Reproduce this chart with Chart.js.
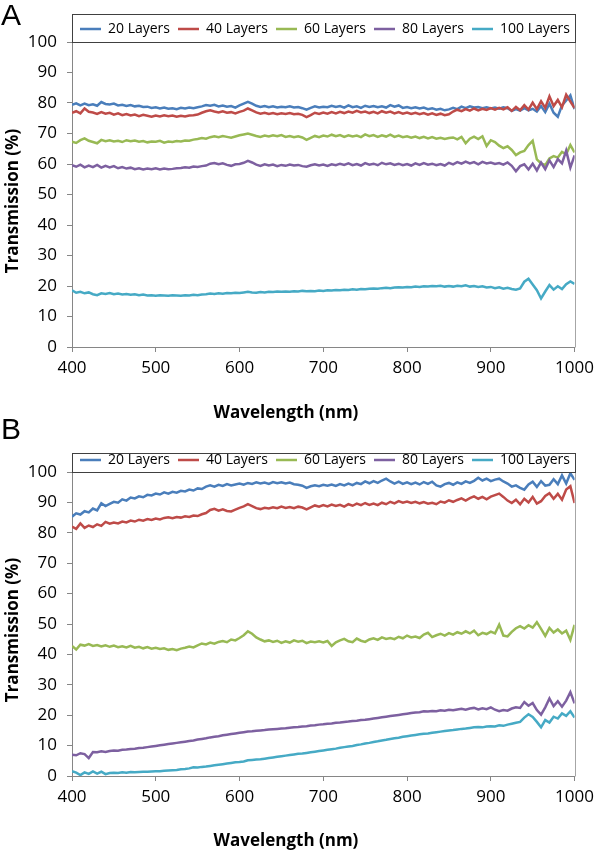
<!DOCTYPE html>
<html>
<head>
<meta charset="utf-8">
<script src="https://cdn.jsdelivr.net/npm/chart.js@4.4.1/dist/chart.umd.min.js"></script>
<style>
  html, body { margin: 0; padding: 0; background: #fff; }
  #page { position: relative; width: 600px; height: 852px; overflow: hidden; background: #fff; }
  canvas { position: absolute; left: 0; }
  .letter { position: absolute; font-family: "Liberation Sans", Arial, sans-serif; font-size: 30px; line-height: 1; color: #000; }
  .xtitle { position: absolute; font-family: "Open Sans", sans-serif; font-weight: bold; font-size: 17px; line-height: 1; color: #000; white-space: nowrap; transform: translate(-50%, -50%); }
  .ytitle { position: absolute; font-family: "Open Sans", sans-serif; font-weight: bold; font-size: 17px; line-height: 1; color: #000; white-space: nowrap; transform: translate(-50%, -50%) rotate(-90deg); }
</style>
</head>
<body>
<div id="page">
  <canvas id="chartA" width="600" height="422" style="top:0px"></canvas>
  <canvas id="chartB" width="600" height="422" style="top:430px"></canvas>
  <div class="letter" style="left:1px; top:0px;">A</div>
  <div class="letter" style="left:1px; top:414px;">B</div>
  <div class="ytitle" style="left:11px; top:201px;">Transmission (%)</div>
  <div class="ytitle" style="left:11px; top:630px;">Transmission (%)</div>
  <div class="xtitle" style="left:286px; top:411px;">Wavelength (nm)</div>
  <div class="xtitle" style="left:286px; top:839px;">Wavelength (nm)</div>
</div>
<script>
// ---------- data ----------
const wavelengths = [
  400,405,410,415,420,425,430,435,440,445,450,455,460,465,470,475,480,485,490,495,
  500,505,510,515,520,525,530,535,540,545,550,555,560,565,570,575,580,585,590,595,
  600,605,610,615,620,625,630,635,640,645,650,655,660,665,670,675,680,685,690,695,
  700,705,710,715,720,725,730,735,740,745,750,755,760,765,770,775,780,785,790,795,
  800,805,810,815,820,825,830,835,840,845,850,855,860,865,870,875,880,885,890,895,
  900,905,910,915,920,925,930,935,940,945,950,955,960,965,970,975,980,985,990,995,
  1000
];
const seriesNames = ['20 Layers', '40 Layers', '60 Layers', '80 Layers', '100 Layers'];
const xTickValues = [400, 500, 600, 700, 800, 900, 1000];
const yTickValues = [0, 10, 20, 30, 40, 50, 60, 70, 80, 90, 100];

// Panel A
const panelA_20 = [
  79.4,79.9,79.2,79.8,79.3,79.6,79.1,80.3,79.7,79.5,79.8,79.2,79.4,79.0,79.3,78.9,79.1,78.7,78.8,78.4,
  78.6,78.2,78.5,78.1,78.3,78.0,78.4,78.2,78.5,78.3,78.6,78.9,79.3,79.1,79.4,78.9,79.2,78.8,79.0,78.5,
  79.2,79.8,80.4,79.8,79.1,78.7,79.0,78.6,78.9,78.5,78.8,78.6,78.9,78.5,78.7,78.3,77.8,78.4,78.9,78.5,
  78.8,78.6,79.1,78.7,79.0,78.5,79.2,78.6,78.9,78.4,79.1,78.7,79.0,78.6,78.9,78.5,79.3,78.8,79.2,78.4,
  78.7,78.3,78.6,78.2,78.5,78.0,78.3,77.8,78.1,77.6,77.9,78.4,78.0,78.8,78.3,78.9,78.5,78.7,78.3,78.6,
  78.2,78.5,78.1,78.6,78.3,77.4,78.0,77.5,78.3,77.6,78.1,77.2,79.0,77.0,79.8,76.8,75.5,79.2,80.8,82.5,
  78.0
];
const panelA_40 = [
  76.8,77.3,76.6,78.2,77.1,76.9,76.4,77.0,76.5,76.8,76.2,76.6,76.0,76.4,75.9,76.2,75.7,76.1,75.8,75.5,
  75.9,75.6,76.0,75.7,75.9,75.5,75.8,75.6,75.9,76.0,76.2,76.8,77.3,77.6,77.2,76.9,77.3,76.8,77.0,76.6,
  77.1,77.5,78.2,77.6,76.9,76.5,76.8,76.4,76.7,76.3,76.6,76.4,76.7,76.3,76.5,76.1,75.4,76.0,76.8,76.4,
  76.9,76.5,77.0,76.6,77.1,76.7,77.2,76.8,77.4,76.9,77.2,76.7,77.1,76.6,77.3,76.8,77.2,76.6,77.0,76.5,
  76.9,76.4,76.8,76.3,76.7,76.2,76.6,76.1,76.5,76.0,76.3,77.2,77.8,77.3,78.0,77.5,78.2,77.6,78.1,77.7,
  78.3,77.8,78.4,77.9,78.6,77.4,78.7,77.6,79.3,77.8,80.1,78.0,80.6,78.4,82.2,79.0,81.0,78.6,82.7,80.5,
  78.3
];
const panelA_60 = [
  67.3,66.9,67.8,68.4,67.6,67.2,66.8,67.9,67.5,67.8,67.4,67.6,67.2,67.8,67.5,67.7,67.3,67.5,67.1,67.4,
  67.3,67.6,67.0,67.4,67.2,67.5,67.4,67.7,67.6,68.0,68.2,68.5,68.3,68.8,69.1,68.8,69.2,68.9,68.6,69.0,
  69.4,69.7,70.0,69.6,69.2,68.9,69.3,69.0,69.4,69.1,69.5,68.9,69.2,68.8,69.1,68.7,67.9,68.6,69.2,68.8,
  69.3,69.0,69.6,69.1,69.5,68.9,69.4,69.0,69.3,68.8,69.7,69.1,69.5,68.9,69.4,69.0,69.6,68.9,69.3,68.8,
  69.1,68.6,69.0,68.5,68.9,68.4,68.8,68.3,68.6,68.2,68.5,68.7,68.1,68.9,66.8,68.3,69.0,68.2,69.1,65.9,
  67.8,67.2,66.0,65.2,65.8,64.6,62.9,63.8,64.3,66.2,67.6,61.5,60.2,59.6,61.8,62.6,62.1,64.0,63.2,66.2,
  63.8
];
const panelA_80 = [
  59.6,59.1,59.8,58.9,59.5,59.0,59.7,58.8,59.4,58.9,59.3,58.6,59.0,58.5,58.8,58.3,58.6,58.2,58.5,58.3,
  58.6,58.2,58.5,58.3,58.4,58.6,58.7,58.9,58.8,59.2,59.0,59.3,59.5,60.1,60.3,59.9,60.2,59.7,59.4,59.9,
  60.0,60.4,61.0,60.5,59.8,59.4,59.9,59.5,59.8,59.3,59.7,59.4,59.8,59.5,59.7,59.3,59.1,59.6,59.9,59.5,
  59.8,59.4,59.9,59.6,60.1,59.7,60.2,59.6,60.0,59.5,60.3,59.8,60.1,59.6,60.4,59.9,60.2,59.7,60.1,59.6,
  60.0,59.5,60.2,59.7,60.3,59.8,60.1,59.6,60.0,59.5,60.4,59.9,60.6,60.1,60.8,60.2,60.6,59.9,60.7,60.2,
  60.5,60.0,60.3,59.8,60.5,59.4,57.6,59.3,59.9,58.2,60.1,57.9,60.5,58.3,61.2,59.0,61.6,60.2,64.4,58.8,
  62.8
];
const panelA_100 = [
  18.6,17.8,18.1,17.6,17.9,17.3,17.0,17.6,17.4,17.7,17.3,17.5,17.2,17.4,17.1,17.3,17.0,17.2,16.9,17.0,
  16.8,17.0,16.9,16.8,17.0,16.9,16.8,17.0,16.9,17.1,17.0,17.2,17.3,17.5,17.4,17.6,17.5,17.7,17.6,17.8,
  17.7,17.9,18.1,17.9,17.8,18.0,17.9,18.1,18.0,18.2,18.1,18.2,18.1,18.3,18.2,18.4,18.3,18.4,18.3,18.5,
  18.4,18.6,18.5,18.7,18.6,18.8,18.7,18.9,18.8,19.0,18.9,19.1,19.2,19.1,19.3,19.4,19.3,19.5,19.6,19.5,
  19.7,19.6,19.8,19.7,19.9,19.8,20.0,19.9,20.1,19.8,20.0,19.8,20.1,19.9,20.2,19.8,20.0,19.7,19.9,19.5,
  19.7,19.3,19.6,19.1,19.4,19.0,18.8,19.2,21.4,22.4,20.5,18.6,15.9,18.2,20.3,18.8,19.9,19.0,20.6,21.5,
  20.7
];

// Panel B
const panelB_20 = [
  85.3,86.4,86.0,87.1,86.7,88.0,87.4,89.7,88.8,89.5,90.2,89.9,91.0,90.6,91.6,91.3,92.0,91.7,92.5,92.3,
  92.9,92.6,93.3,92.9,93.5,93.2,93.8,93.6,94.2,93.9,94.6,94.4,95.2,95.6,95.2,95.8,95.4,96.0,95.6,95.9,
  96.2,95.8,96.4,96.1,96.6,96.2,96.5,96.1,96.7,96.3,96.6,96.2,96.5,96.0,95.8,95.5,94.8,95.3,95.6,95.3,
  95.8,95.5,95.9,95.4,96.0,95.6,96.2,95.7,96.4,96.0,96.9,96.3,97.0,96.4,97.2,97.8,96.9,96.2,96.8,96.1,
  96.6,96.0,96.5,95.9,96.7,96.1,96.8,95.6,95.2,96.0,96.4,95.8,96.6,96.1,96.9,96.4,97.1,98.1,97.2,97.8,
  97.0,97.5,97.8,96.9,96.2,95.2,95.6,94.8,94.2,95.9,96.8,95.1,97.0,95.5,95.8,97.6,96.0,98.9,96.2,99.6,
  97.4
];
const panelB_40 = [
  82.0,81.3,83.1,81.6,82.4,81.9,82.8,82.3,83.6,83.0,83.4,83.1,83.7,83.4,84.0,83.7,84.3,84.0,84.5,84.2,
  84.7,84.4,84.9,85.1,84.8,85.2,85.0,85.4,85.2,85.7,85.5,86.1,86.5,87.5,87.9,87.3,87.7,87.2,87.0,87.6,
  88.2,88.7,89.4,88.8,88.1,87.8,88.2,88.0,88.4,88.1,88.6,88.2,88.5,88.1,88.6,88.3,87.7,88.4,89.0,88.6,
  89.1,88.7,89.3,88.8,89.2,88.6,89.4,88.9,89.6,89.1,89.8,89.2,89.6,89.1,89.9,89.4,90.2,89.7,90.4,89.9,
  90.3,89.8,90.2,89.7,90.1,89.6,89.9,89.4,90.3,89.9,90.7,90.2,90.8,91.3,90.6,91.4,92.0,91.2,91.8,91.0,
  91.9,92.4,92.9,91.8,90.6,89.8,90.9,89.4,91.2,90.0,91.8,89.6,90.4,92.1,93.0,91.2,92.8,90.9,94.2,95.3,
  89.8
];
const panelB_60 = [
  42.8,41.6,43.2,42.9,43.4,42.8,43.1,42.6,43.0,42.5,42.9,42.4,42.7,42.3,42.8,42.2,42.5,42.0,42.4,41.9,
  42.2,41.8,42.0,41.5,41.8,41.4,41.9,42.2,42.6,42.3,43.0,43.6,43.3,43.9,43.5,44.1,44.4,44.0,44.9,44.6,
  45.4,46.3,47.6,46.8,45.6,44.9,44.3,44.6,44.1,44.5,43.8,44.3,43.9,44.6,44.2,44.5,43.7,44.2,44.0,44.3,
  43.9,44.4,42.8,44.0,44.6,45.1,44.3,44.0,45.2,44.5,44.1,44.9,45.3,44.8,45.6,45.1,45.4,45.0,45.8,45.3,
  46.2,45.6,45.9,45.4,46.5,47.1,45.7,46.3,46.8,46.2,47.0,46.5,47.3,46.8,47.6,46.9,47.8,46.3,47.1,46.7,
  47.5,46.9,49.8,46.2,45.9,47.4,48.6,49.3,48.5,49.6,48.8,50.6,48.4,46.1,48.7,47.2,48.2,46.9,47.8,44.8,
  49.7
];
const panelB_80 = [
  7.0,6.8,7.5,7.2,5.9,7.9,7.8,8.1,7.9,8.2,8.4,8.3,8.6,8.7,8.9,9.0,9.2,9.3,9.5,9.7,
  9.9,10.1,10.3,10.5,10.7,10.9,11.1,11.3,11.5,11.7,12.0,12.2,12.4,12.7,12.9,13.1,13.4,13.6,13.8,14.0,
  14.2,14.4,14.6,14.7,14.9,15.0,15.1,15.3,15.4,15.5,15.6,15.7,15.9,16.0,16.1,16.3,16.4,16.6,16.7,16.9,
  17.0,17.2,17.3,17.5,17.6,17.8,17.9,18.1,18.2,18.4,18.5,18.7,18.9,19.1,19.3,19.5,19.7,19.9,20.1,20.3,
  20.5,20.7,20.9,21.0,21.3,21.2,21.4,21.3,21.6,21.5,21.8,21.6,21.9,22.1,21.8,22.2,22.4,21.9,22.3,22.0,
  22.6,21.8,21.3,21.7,21.5,22.2,22.6,22.4,24.3,23.1,24.0,21.7,20.2,22.6,25.5,23.0,24.6,22.8,24.8,27.6,
  23.9
];
const panelB_100 = [
  1.6,1.1,0.3,1.2,0.7,1.5,0.8,1.4,0.6,1.0,1.1,1.0,1.2,1.1,1.3,1.2,1.3,1.4,1.4,1.5,
  1.6,1.6,1.7,1.8,1.9,2.0,2.2,2.3,2.5,2.9,2.8,3.0,3.1,3.3,3.5,3.7,3.9,4.1,4.3,4.5,
  4.6,4.8,5.2,5.3,5.4,5.5,5.7,5.9,6.1,6.3,6.5,6.7,6.9,7.1,7.3,7.4,7.6,7.8,8.0,8.2,
  8.4,8.6,8.8,9.0,9.3,9.5,9.7,9.9,10.2,10.4,10.7,10.9,11.2,11.4,11.7,11.9,12.2,12.4,12.6,12.9,
  13.1,13.3,13.5,13.7,13.9,14.0,14.2,14.4,14.6,14.8,15.0,15.1,15.3,15.5,15.6,15.8,16.0,16.1,16.0,16.3,
  16.4,16.3,16.7,16.5,16.9,17.2,17.5,17.8,19.2,20.3,19.4,17.8,16.0,18.4,17.6,19.5,18.9,20.6,19.8,21.3,
  19.2
];

// ---------- styling ----------
const seriesColors = ['#4A7EBB', '#BE4B48', '#98B954', '#7D60A0', '#46AAC5'];
const axisColor = '#868686';

const framePlugin = {
  id: 'frame',
  afterDraw(chart, args, opts) {
    const a = chart.chartArea;
    const ctx = chart.ctx;
    const L = Math.round(a.left) + 0.5, R = Math.round(a.right) + 0.5;
    const T = Math.round(a.top) + 0.5, B = Math.round(a.bottom) + 0.5;
    ctx.save();
    ctx.lineWidth = 1;
    ctx.strokeStyle = '#a6a6a6';
    ctx.beginPath();
    ctx.moveTo(R, T); ctx.lineTo(R, B);
    ctx.stroke();
    ctx.strokeStyle = '#404040';
    ctx.strokeRect(L, T - opts.boxHeight, R - L, opts.boxHeight);
    ctx.restore();
  }
};

function makeChart(canvasId, seriesValues, cfg) {
  const datasets = seriesNames.map((name, i) => ({
    label: name,
    data: wavelengths.map((w, j) => ({ x: w, y: seriesValues[i][j] })),
    borderColor: seriesColors[i],
    backgroundColor: seriesColors[i],
    borderWidth: 2.5,
    pointRadius: 0,
    pointHoverRadius: 0,
    tension: 0,
    fill: false,
    order: seriesNames.length - i
  }));
  const tickFont = { family: "'Open Sans', sans-serif", size: 17 };
  return new Chart(document.getElementById(canvasId), {
    type: 'line',
    data: { datasets },
    options: {
      responsive: false,
      animation: false,
      events: [],
      layout: { padding: { top: cfg.padTop, right: 22, bottom: 0, left: 0 } },
      plugins: {
        legend: {
          position: 'top',
          align: 'end',
          maxHeight: cfg.legendHeight,
          labels: {
            usePointStyle: true,
            pointStyle: 'line',
            pointStyleWidth: 21,
            padding: 8,
            color: '#000',
            font: { family: "'Open Sans', sans-serif", size: 14 },
            sort: (a, b) => a.datasetIndex - b.datasetIndex
          }
        },
        tooltip: { enabled: false },
        frame: { boxHeight: cfg.boxHeight }
      },
      scales: {
        x: {
          type: 'linear',
          min: xTickValues[0],
          max: xTickValues[xTickValues.length - 1],
          afterBuildTicks: s => { s.ticks = xTickValues.map(v => ({ value: v })); },
          afterFit: s => { s.height = cfg.xAxisHeight; },
          grid: { drawOnChartArea: false, drawTicks: true, tickLength: 5, color: axisColor },
          border: { display: true, color: axisColor, width: 1 },
          ticks: { color: '#000', font: tickFont, padding: 6, maxRotation: 0, autoSkip: false, callback: v => String(v) }
        },
        y: {
          type: 'linear',
          min: yTickValues[0],
          max: yTickValues[yTickValues.length - 1],
          afterBuildTicks: s => { s.ticks = yTickValues.map(v => ({ value: v })); },
          afterFit: s => { s.width = 72; },
          grid: { drawOnChartArea: false, drawTicks: true, tickLength: 5, color: axisColor },
          border: { display: true, color: axisColor, width: 1 },
          ticks: { color: '#000', font: tickFont, padding: 10, autoSkip: false, callback: v => String(v) }
        }
      }
    },
    plugins: [framePlugin]
  });
}

makeChart('chartA', [panelA_20, panelA_40, panelA_60, panelA_80, panelA_100],
  { padTop: 14, legendHeight: 28, boxHeight: 28, xAxisHeight: 75 });
makeChart('chartB', [panelB_20, panelB_40, panelB_60, panelB_80, panelB_100],
  { padTop: 15, legendHeight: 27, boxHeight: 19, xAxisHeight: 76 });
</script>
</body>
</html>
